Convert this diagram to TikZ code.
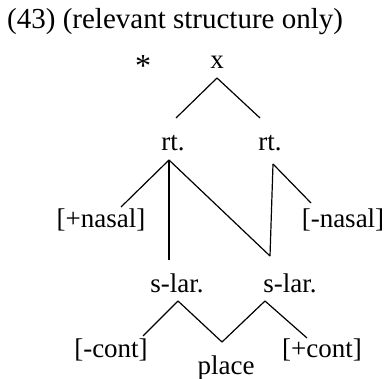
\documentclass[tikz,border=0pt]{standalone}
\usepackage{fontspec}
\setmainfont{Liberation Serif}
\usetikzlibrary{calc}

\begin{document}
\begin{tikzpicture}[
  x=1pt, y=1pt,
  feat/.style={inner sep=0pt, outer sep=0pt, font=\fontsize{27}{27}\selectfont},
  branch/.style={line width=1.2pt},
]
  \useasboundingbox (0,0) rectangle (385,-379);

  % Title
  \node[anchor=west, inner sep=0pt, font=\fontsize{29}{29}\selectfont] (title) at (7,-22) {(43) (relevant structure only)};

  % Top
  \node[feat, font=\fontsize{32}{32}\selectfont] (star) at (143,-66) {*};
  \node[feat] (x) at (217,-62) {x};

  % Roots
  \node[feat] (rtL) at (173,-143) {rt.};
  \node[feat] (rtR) at (270,-143) {rt.};

  % Nasality
  \node[feat] (nasP) at (101,-220) {[+nasal]};
  \node[feat] (nasM) at (343,-220) {[-nasal]};

  % Supralaryngeal
  \node[feat] (slarL) at (177,-283) {s-lar.};
  \node[feat] (slarR) at (290,-283) {s-lar.};

  % Continuancy and place
  \node[feat] (contM) at (111,-350) {[-cont]};
  \node[feat] (place) at (226,-368) {place};
  \node[feat] (contP) at (322,-350) {[+cont]};

  % x to roots
  \draw[branch] ($(x)+(0,-16)$) -- ($(rtL)+(3,25)$);
  \draw[branch] ($(x)+(0,-16)$) -- ($(rtR)+(-10,25)$);

  % Left root
  \draw[branch] ($(rtL)+(-4,-17)$) -- ($(nasP)+(20,13)$);
  \draw[branch] ($(rtL)+(-4,-17)$) -- ($(slarL)+(-8,23)$);
  \draw[branch] ($(rtL)+(-4,-17)$) -- ($(slarR)+(-20,27)$);

  % Right root
  \draw[branch] ($(slarR)+(-20,27)$) -- ($(rtR)+(3,-21)$);
  \draw[branch] ($(rtR)+(3,-21)$) -- ($(nasM)+(-32,17)$);

  % s-lar. to features
  \draw[branch] ($(slarL)+(1,-18)$) -- ($(contM)+(32,14)$);
  \draw[branch] ($(slarL)+(1,-18)$) -- ($(place)+(-4,26)$);
  \draw[branch] ($(slarR)+(-25,-18)$) -- ($(place)+(-4,26)$);
  \draw[branch] ($(slarR)+(-25,-18)$) -- ($(contP)+(-15,12)$);
\end{tikzpicture}
\end{document}
